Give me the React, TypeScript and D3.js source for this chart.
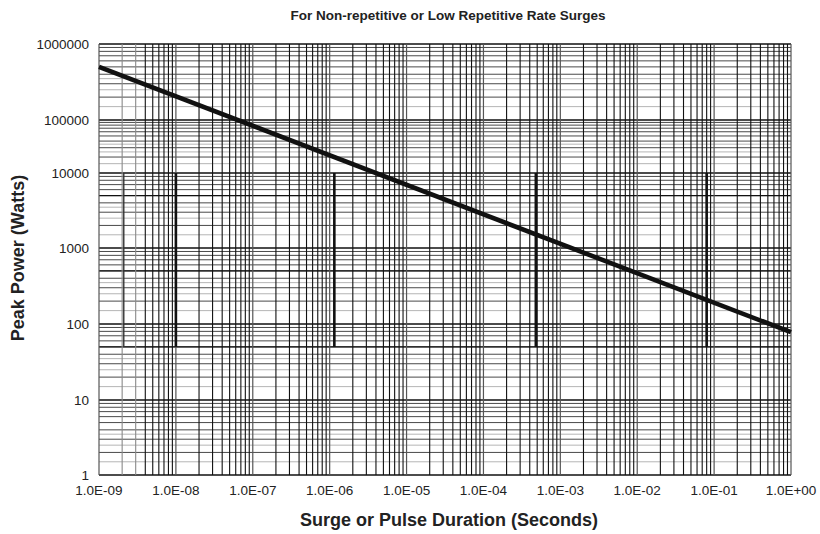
import React from 'react';
import * as d3 from 'd3';

// decade ticks on both axes
const xTickValues = [1e-9, 1e-8, 1e-7, 1e-6, 1e-5, 1e-4, 1e-3, 1e-2, 1e-1, 1e0];
const xTickLabels = ['1.0E-09', '1.0E-08', '1.0E-07', '1.0E-06', '1.0E-05', '1.0E-04', '1.0E-03', '1.0E-02', '1.0E-01', '1.0E+00'];
const yTickValues = [1, 10, 100, 1000, 10000, 100000, 1000000];
const yTickLabels = ['1', '10', '100', '1000', '10000', '100000', '1000000'];

// the rating curve, read at its two ends
const durations = [1e-9, 1e0];
const peakPower = [5.0e5, 78];

// darker partial verticals in the scanned grid (50 W .. 10 kW)
const heavyMarks = [1e-8, 1.15e-6, 4.8e-4, 8.0e-2];
const thinMarks = [2.1e-9];
const markSpan = [50, 10000];

const mantissas = [2, 3, 4, 5, 6, 7, 8, 9];
const halfMantissas = [1.5, 2.5, 3.5];

const W = 820;
const H = 534;
const font = '"Liberation Sans", Arial, sans-serif';

export default function App() {
  const left = 99;
  const right = 791;
  const top = 44;
  const bottom = 475;

  const x = d3.scaleLog().domain([1e-9, 1]).range([left, right]);
  // the original log paper has uneven decades, so map log10 piecewise
  const yLin = d3.scaleLinear()
    .domain([0, 1, 2, 3, 4, 5, 6])
    .range([bottom, 400, 324, 248, 173, 120, top]);
  const y = (v: number) => yLin(Math.log10(v));

  const xMinor: number[] = [];
  for (let e = -9; e < 0; e++) mantissas.forEach(m => xMinor.push(m * Math.pow(10, e)));

  const yMinor: number[] = [];
  const yHalf: number[] = [];
  for (let e = 0; e < 6; e++) {
    mantissas.forEach(m => yMinor.push(m * Math.pow(10, e)));
    halfMantissas.forEach(m => yHalf.push(m * Math.pow(10, e)));
  }
  const yHeavy = [50, 500, 5000];

  const line = d3.line<number>()
    .x((_, i) => x(durations[i]))
    .y(d => y(d));

  return (
    <svg width={W} height={H} style={{ position: 'absolute', left: 0, top: 0, background: '#fff' }} fontFamily={font}>
      {/* horizontal grid */}
      {yHalf.map((v, i) => (
        <line key={'yh' + i} x1={left} x2={right} y1={y(v)} y2={y(v)} stroke="#b5b5b5" strokeWidth={1} />
      ))}
      {yMinor.map((v, i) => (
        <line key={'ym' + i} x1={left} x2={right} y1={y(v)} y2={y(v)} stroke="#4a4a4a" strokeWidth={1} />
      ))}
      {yHeavy.map((v, i) => (
        <line key={'yv' + i} x1={left} x2={right} y1={y(v)} y2={y(v)} stroke="#111" strokeWidth={1.4} />
      ))}
      {yTickValues.map((v, i) => (
        <line key={'yM' + i} x1={left} x2={right} y1={y(v)} y2={y(v)} stroke="#111" strokeWidth={1.3} />
      ))}

      {/* vertical grid */}
      {xMinor.map((v, i) => (
        <line key={'xm' + i} x1={x(v)} x2={x(v)} y1={top} y2={bottom}
          stroke={i < 2 ? '#8a8a8a' : '#111'} strokeWidth={1.1} />
      ))}
      {xTickValues.map((v, i) => (
        <line key={'xM' + i} x1={x(v)} x2={x(v)} y1={top} y2={bottom} stroke="#555" strokeWidth={1.2} />
      ))}
      {heavyMarks.map((v, i) => (
        <line key={'hk' + i} x1={x(v)} x2={x(v)} y1={y(markSpan[0])} y2={y(markSpan[1])} stroke="#111" strokeWidth={2.6} />
      ))}
      {thinMarks.map((v, i) => (
        <line key={'tk' + i} x1={x(v)} x2={x(v)} y1={y(markSpan[0])} y2={y(markSpan[1])} stroke="#333" strokeWidth={1.4} />
      ))}

      {/* curve */}
      <path d={line(peakPower) || ''} fill="none" stroke="#111" strokeWidth={4.6} />

      {/* tick labels */}
      {yTickValues.map((v, i) => (
        <text key={'yl' + i} x={left - 10} y={y(v)} dy="0.35em" textAnchor="end" fontSize={13.5} fill="#222">
          {yTickLabels[i]}
        </text>
      ))}
      {xTickValues.map((v, i) => (
        <text key={'xl' + i} x={x(v)} y={bottom + 20} textAnchor="middle" fontSize={13.5} fill="#222">
          {xTickLabels[i]}
        </text>
      ))}

      {/* titles */}
      <text x={448} y={20} textAnchor="middle" fontSize={13.5} fontWeight="bold" fill="#222">
        For Non-repetitive or Low Repetitive Rate Surges
      </text>
      <text x={449} y={526} textAnchor="middle" fontSize={18} fontWeight="bold" fill="#222">
        Surge or Pulse Duration (Seconds)
      </text>
      <text transform={`translate(24,258) rotate(-90)`} textAnchor="middle" fontSize={18} fontWeight="bold" fill="#222">
        Peak Power (Watts)
      </text>
    </svg>
  );
}
